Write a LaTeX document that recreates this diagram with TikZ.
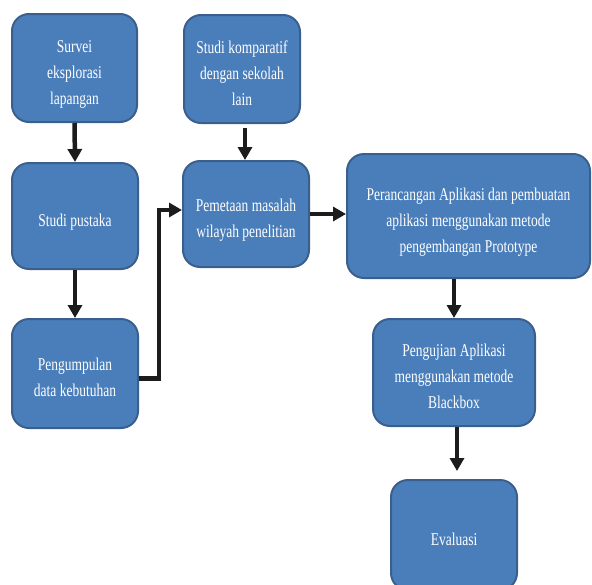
\documentclass[tikz,border=0pt]{standalone}
\usepackage{fontspec}
\setmainfont[FakeStretch=0.75]{Liberation Serif}
\usetikzlibrary{arrows.meta, calc}

\definecolor{boxblue}{HTML}{4A7EBB}
\definecolor{boxedge}{HTML}{3A5F8C}
\definecolor{arrowblack}{HTML}{1C1C1C}

% text block set a little below the box centre
\newcommand{\boxlines}[1]{\raisebox{-5pt}[\height][\depth]{\begin{tabular}{@{}c@{}}#1\end{tabular}}}

\begin{document}
\begin{tikzpicture}[x=1pt, y=-1pt,
    stepbox/.style={draw=boxedge, fill=boxblue, line width=2pt, rounded corners=17pt,
        text=white, inner sep=4pt,
        font=\fontsize{18}{26}\selectfont},
    flow/.style={draw=arrowblack, line width=4.5pt, -{Triangle[width=14pt,length=13pt]}}]
    % Page frame
    \useasboundingbox (0,0) rectangle (592,584);
    \clip (0,0) rectangle (592,584);

    % Left column
    \node[stepbox, minimum width=125pt, minimum height=108pt] (survei) at (74.5,68) {\boxlines{Survei\\eksplorasi\\lapangan}};
    \node[stepbox, minimum width=126pt, minimum height=106pt] (pustaka) at (75,216) {\boxlines{Studi pustaka}};
    \node[stepbox, minimum width=126pt, minimum height=109pt] (kumpul) at (75,373.5) {\boxlines{Pengumpulan\\data kebutuhan}};

    % Middle column
    \node[stepbox, minimum width=116pt, minimum height=108pt] (komparatif) at (242,69) {\boxlines{Studi komparatif\\dengan sekolah\\lain}};
    \node[stepbox, minimum width=126pt, minimum height=106pt] (pemetaan) at (246,214) {\boxlines{Pemetaan masalah\\wilayah penelitian}};

    % Right column
    \node[stepbox, minimum width=243pt, minimum height=124pt] (rancang) at (468.5,216) {\boxlines{Perancangan Aplikasi dan pembuatan\\aplikasi menggunakan metode\\pengembangan Prototype}};
    \node[stepbox, minimum width=162pt, minimum height=107pt] (uji) at (454,372.5) {\boxlines{Pengujian Aplikasi\\menggunakan metode\\Blackbox}};
    \node[stepbox, minimum width=126pt, minimum height=110pt] (evaluasi) at (454,535) {\boxlines{Evaluasi}};

    % Connectors
    \draw[flow] (survei.south) -- (pustaka.north);
    \draw[flow] (pustaka.south) -- (kumpul.north);
    \draw[flow] ([yshift=-5pt]kumpul.east) -- ++(20,0) |- ([yshift=4pt]pemetaan.west);
    \draw[flow, shorten <=4pt] ([xshift=3pt]komparatif.south) -- ([xshift=-1pt]pemetaan.north);
    \draw[flow] (pemetaan.east) -- (pemetaan.east -| rancang.west);
    \draw[flow] (uji.north |- rancang.south) -- (uji.north);
    \draw[flow, shorten >=8pt] ([xshift=3pt]uji.south) -- ([xshift=3pt]evaluasi.north);
\end{tikzpicture}
\end{document}
